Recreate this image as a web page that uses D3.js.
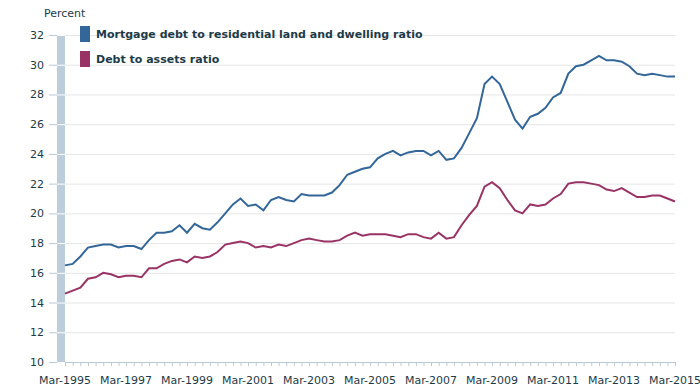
<!DOCTYPE html>
<html>
  <head>
    <meta charset="utf-8">
    <title>Debt ratios</title>
    <script src="https://d3js.org/d3.v7.min.js"></script>
    <style>
      body { margin: 0; background: #fff; }
      text { font-family: "DejaVu Sans", Verdana, sans-serif; }
    </style>
  </head>
  <body>
    <div id="chart"></div>
    <script>
      // quarterly series, Mar-1995 .. Mar-2015
      var mortgage = [16.5, 16.6, 17.1, 17.7, 17.8, 17.9, 17.9, 17.7, 17.8, 17.8,
        17.6, 18.2, 18.7, 18.7, 18.8, 19.2, 18.7, 19.3, 19.0, 18.9,
        19.4, 20.0, 20.6, 21.0, 20.5, 20.6, 20.2, 20.9, 21.1, 20.9,
        20.8, 21.3, 21.2, 21.2, 21.2, 21.4, 21.9, 22.6, 22.8, 23.0,
        23.1, 23.7, 24.0, 24.2, 23.9, 24.1, 24.2, 24.2, 23.9, 24.2,
        23.6, 23.7, 24.4, 25.4, 26.4, 28.7, 29.2, 28.7, 27.5, 26.3,
        25.7, 26.5, 26.7, 27.1, 27.8, 28.1, 29.4, 29.9, 30.0, 30.3,
        30.6, 30.3, 30.3, 30.2, 29.9, 29.4, 29.3, 29.4, 29.3, 29.2, 29.2];
      var debtAssets = [14.6, 14.8, 15.0, 15.6, 15.7, 16.0, 15.9, 15.7, 15.8, 15.8,
        15.7, 16.3, 16.3, 16.6, 16.8, 16.9, 16.7, 17.1, 17.0, 17.1,
        17.4, 17.9, 18.0, 18.1, 18.0, 17.7, 17.8, 17.7, 17.9, 17.8,
        18.0, 18.2, 18.3, 18.2, 18.1, 18.1, 18.2, 18.5, 18.7, 18.5,
        18.6, 18.6, 18.6, 18.5, 18.4, 18.6, 18.6, 18.4, 18.3, 18.7,
        18.3, 18.4, 19.2, 19.9, 20.5, 21.8, 22.1, 21.7, 20.9, 20.2,
        20.0, 20.6, 20.5, 20.6, 21.0, 21.3, 22.0, 22.1, 22.1, 22.0,
        21.9, 21.6, 21.5, 21.7, 21.4, 21.1, 21.1, 21.2, 21.2, 21.0, 20.8];
      var seriesNames = ["Mortgage debt to residential land and dwelling ratio", "Debt to assets ratio"];
      var seriesColors = ["#336699", "#993366"];
      var yTicks = [10, 12, 14, 16, 18, 20, 22, 24, 26, 28, 30, 32];
      var tickLabels = ["Mar-1995", "Mar-1997", "Mar-1999", "Mar-2001", "Mar-2003", "Mar-2005",
        "Mar-2007", "Mar-2009", "Mar-2011", "Mar-2013", "Mar-2015"];

      var quarters = d3.range(mortgage.length).map(function(i) { return new Date(1995, 2 + 3 * i, 1); });

      var margin = {top: 35, right: 25, bottom: 28, left: 65},
          width = 700 - margin.left - margin.right,
          height = 390 - margin.top - margin.bottom;

      var svg = d3.select("#chart").append("svg")
        .attr("width", 700)
        .attr("height", 390);
      var g = svg.append("g")
        .attr("transform", "translate(" + margin.left + "," + margin.top + ")");

      var x = d3.scaleTime().domain([quarters[0], quarters[quarters.length - 1]]).range([0, width]);
      var y = d3.scaleLinear().domain([10, 32]).range([height, 0]);

      // gridlines
      g.selectAll(".grid").data(yTicks.slice(1)).enter().append("line")
        .attr("x1", 0).attr("x2", width)
        .attr("y1", function(d) { return y(d) + 0.5; })
        .attr("y2", function(d) { return y(d) + 0.5; })
        .attr("stroke", "#e6e6e6");

      // left band, split at each tick
      g.selectAll(".band").data(yTicks.slice(0, -1)).enter().append("rect")
        .attr("x", -8).attr("width", 8)
        .attr("y", function(d) { return y(d + 2) + 1; })
        .attr("height", function(d) { return y(d) - y(d + 2) - 1; })
        .attr("fill", "#bccddc");

      // y axis
      var yAxis = g.append("g").attr("transform", "translate(-8,0)")
        .call(d3.axisLeft(y).tickValues(yTicks).tickSize(8).tickPadding(5));
      yAxis.select(".domain").remove();
      yAxis.selectAll("line").attr("stroke", "#b8cad9");
      yAxis.selectAll("text").attr("fill", "#1d3b47").style("font-size", "11px");

      // x axis with quarterly ticks
      var xAxis = g.append("g").attr("transform", "translate(0," + height + ")")
        .call(d3.axisBottom(x).tickValues(quarters).tickSize(4).tickFormat(""));
      xAxis.select(".domain").attr("stroke", "#b8cad9").attr("d", "M0,0.5H" + width);
      xAxis.selectAll("line").attr("stroke", "#b8cad9");

      g.selectAll(".xlab").data(tickLabels).enter().append("text")
        .attr("x", function(d, i) { return x(quarters[i * 8]); })
        .attr("y", height + 22)
        .attr("text-anchor", "middle")
        .attr("fill", "#1d3b47")
        .style("font-size", "11px")
        .text(function(d) { return d; });

      svg.append("text")
        .attr("x", 44).attr("y", 17)
        .attr("fill", "#1d3b47")
        .style("font-size", "11px")
        .text("Percent");

      // lines
      var line = d3.line()
        .x(function(d, i) { return x(quarters[i]); })
        .y(function(d) { return y(d); });
      [mortgage, debtAssets].forEach(function(s, k) {
        g.append("path").datum(s)
          .attr("d", line)
          .attr("fill", "none")
          .attr("stroke", seriesColors[k])
          .attr("stroke-width", 2);
      });

      // legend
      var legend = svg.selectAll(".legend").data(seriesNames).enter().append("g")
        .attr("transform", function(d, i) { return "translate(80," + (26 + i * 25) + ")"; });
      legend.append("rect")
        .attr("width", 10).attr("height", 16)
        .attr("fill", function(d, i) { return seriesColors[i]; });
      legend.append("text")
        .attr("x", 16).attr("y", 12)
        .attr("fill", "#1d3b47")
        .style("font-size", "11px")
        .style("font-weight", "bold")
        .text(function(d) { return d; });
    </script>
  </body>
</html>
